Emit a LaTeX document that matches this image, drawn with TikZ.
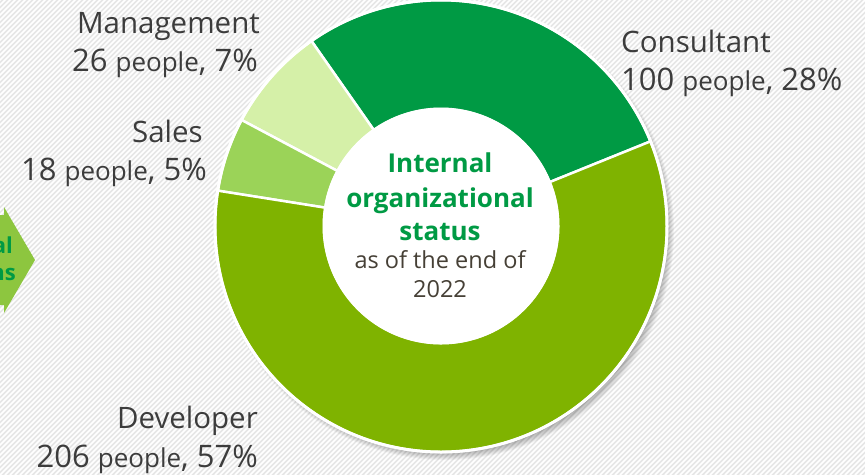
\documentclass[tikz,border=0pt]{standalone}
\usepackage{fontspec}
\setmainfont{Open Sans}
\usetikzlibrary{positioning}
\definecolor{consgreen}{RGB}{0,154,68}
\definecolor{devgreen}{RGB}{127,179,0}
\definecolor{salesgreen}{RGB}{155,211,88}
\definecolor{mgmtgreen}{RGB}{213,240,168}
\definecolor{arrowgreen}{RGB}{141,198,63}
\definecolor{labelgray}{RGB}{60,60,60}
\definecolor{notebrown}{RGB}{70,64,54}
\definecolor{stripegray}{RGB}{230,230,230}
\pgfdeclareradialshading{hubshade}{\pgfpoint{0bp}{0bp}}{color(0bp)=(white); color(38bp)=(white); color(50bp)=(black!16)}
\newcommand{\ppl}{{\fontsize{26}{26}\selectfont people}}
\begin{document}
\begin{tikzpicture}[x=1pt,y=1pt]
        \tikzstyle{every node}=[inner sep=0pt, text=labelgray, font=\fontsize{29.5}{29.5}\selectfont]
        \tikzstyle{seg}=[draw=white, line width=2.5pt]
        \tikzstyle{lbl}=[anchor=base east]
        \tikzstyle{num}=[font=\fontsize{31}{31}\selectfont]
        \tikzstyle{hubtitle}=[anchor=base, text=consgreen, font=\bfseries\fontsize{26}{26}\selectfont]
        \tikzstyle{hubnote}=[anchor=base, text=notebrown, font=\fontsize{23.5}{23.5}\selectfont]
        \useasboundingbox (0,0) rectangle (865,-475);
        \fill[stripegray] (0,0) rectangle (865,-475);
        \begin{scope}
          \clip (0,0) rectangle (865,-475);
          \foreach \s in {-480,-475,...,870}
          {
            \draw[white, line width=1.5pt] (\s,-475) -- ++(480,480);
          }
        \end{scope}

        \fill[arrowgreen] (0,-215) -- (4,-215) -- (4,-207) -- (35,-260)
          -- (4,-313) -- (4,-305) -- (0,-305) -- cycle;
        \node[lbl, text=consgreen, font=\bfseries\fontsize{22}{22}\selectfont] (rel1) at (13,-253) {al};
        \node[lbl, text=consgreen, font=\bfseries\fontsize{22}{22}\selectfont] (rel2) at (16,-280) {ns};

        \coordinate (c) at (441,-226);
        \coordinate (cs) at (445,-231);
        \foreach \k in {1, ..., 9}
        {
          \fill[black, opacity=0.04] (cs) circle (220+\k);
        }

        \foreach \a/\b/\col in {22/125/consgreen, 125/152/mgmtgreen, 152/171/salesgreen, 171/382/devgreen}
        {
          \filldraw[seg, fill=\col] ([shift={(\a:226pt)}]c) arc[start angle=\a, end angle=\b, radius=226pt]
            -- ([shift={(\b:117pt)}]c) arc[start angle=\b, end angle=\a, radius=117pt] -- cycle;
        }
        \draw[white, line width=3pt] (c) circle (226);
        \node[circle, minimum size=234pt, shading=hubshade, draw=white, line width=3pt] (hub) at (c) {};

        \foreach \txt/\y [count=\i] in {Internal/172, organizational/207, status/240}
        {
          \path (440,-\y) node[hubtitle] (title\i) {\txt};
        }
        \path (440,-268) node[hubnote] (note1) {as of the end of};
        \path (440,-297) node[hubnote] (note2) {2022};

        \node[lbl] (mgmt) at (260,-33) {Management};
        \node[lbl, num] (mgmtnum) at (258,-71) {26 \ppl, 7\%};
        \node[lbl] (sales) at (203,-142) {Sales};
        \node[lbl, num] (salesnum) at (207,-180) {18 \ppl, 5\%};
        \node[lbl, anchor=base west] (cons) at (621,-52) {Consultant};
        \node[lbl, num, anchor=base west] (consnum) at (621,-90) {100 \ppl, 28\%};
        \node[lbl] (dev) at (258,-428) {Developer};
        \node[lbl, num] (devnum) at (258,-467) {206 \ppl, 57\%};
      \end{tikzpicture}
\end{document}
